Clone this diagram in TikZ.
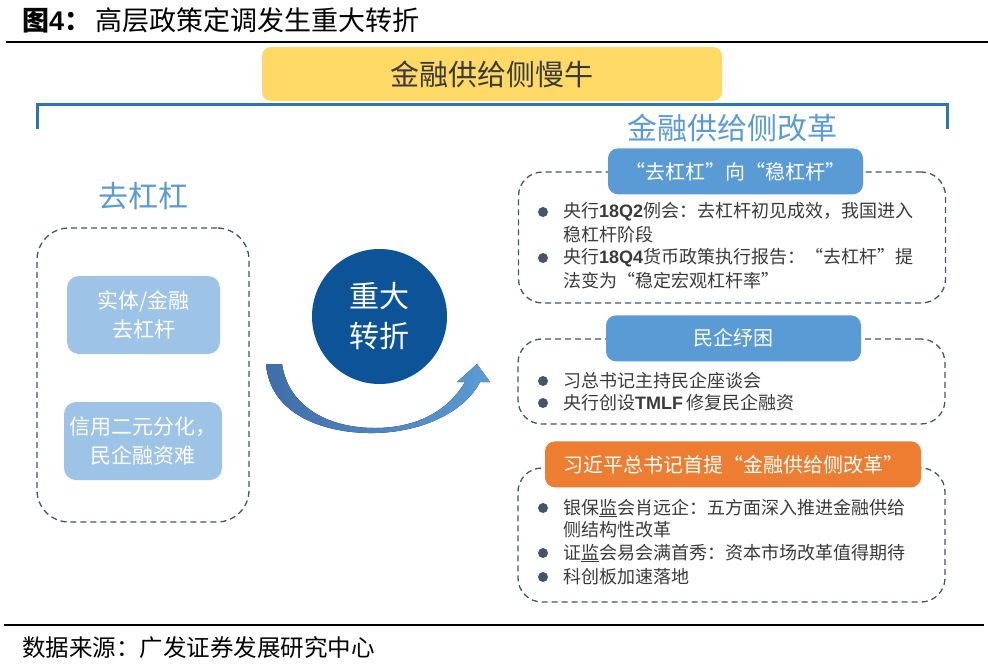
\documentclass[tikz,border=0pt]{standalone}
\usepackage{fontspec}
\setmainfont{Noto Sans CJK SC}
\newfontfamily\latinfont{Liberation Sans}
\usepackage{xcolor}
\usepackage{tikz}
\usetikzlibrary{positioning}
\definecolor{SkyBlue}{HTML}{5B9BD5}
\definecolor{PaleBlue}{HTML}{9DC3E6}
\definecolor{DeepBlue}{HTML}{0C5497}
\definecolor{RuleBlue}{HTML}{2E75B6}
\definecolor{ArcBlue}{HTML}{3F6EAA}
\definecolor{SlateLine}{HTML}{44546A}
\definecolor{ReformOrange}{HTML}{ED7D31}
\definecolor{SunYellow}{HTML}{FFD966}
\definecolor{InkGray}{HTML}{3A3A3A}
\tikzset{
  panel/.style={draw=SlateLine, line width=1.3pt, dash pattern=on 6pt off 4pt,
    rounded corners=24pt, minimum width=427pt, inner sep=0pt},
  headbox/.style={fill=SkyBlue, rounded corners=10pt, text=white, inner sep=0pt,
    font=\fontsize{20pt}{24pt}\selectfont, minimum width=255pt, minimum height=46pt},
  softbox/.style={fill=PaleBlue, rounded corners=12pt, text=white, align=center,
    font=\fontsize{21pt}{29pt}\selectfont, minimum height=78pt, inner sep=0pt},
  bigword/.style={text=SkyBlue, inner sep=0pt, font=\fontsize{30pt}{34pt}\selectfont},
  dot/.style={circle, fill=SlateLine, minimum size=10pt, inner sep=0pt},
  itemline/.style={anchor=west, inner sep=0pt, text=InkGray,
    font=\fontsize{18pt}{22pt}\selectfont},
  heavyrule/.style={line width=2.2pt, draw=black}
}
\newcommand{\engb}[1]{{\latinfont\bfseries #1}}

\begin{document}
\begin{tikzpicture}[x=1pt, y=-1pt]
  \useasboundingbox (0,0) rectangle (988,667);
  % title and rules
  \node[anchor=west, inner sep=0pt, font=\fontsize{27pt}{30pt}\selectfont] (title) at (22,20)
    {\textbf{图\engb{4}：}\hspace{4pt}高层政策定调发生重大转折};
  \draw[heavyrule] (6,42) -- (988,42);
  \draw[heavyrule] (4,625) -- (984,625);
  \node[anchor=west, inner sep=0pt, font=\fontsize{23.5pt}{26pt}\selectfont] (source) at (22,648)
    {数据来源：广发证券发展研究中心};

  % top banner and bracket
  \node[fill=SunYellow, rounded corners=9pt, minimum width=460pt, minimum height=54pt,
    text=InkGray, font=\fontsize{29pt}{32pt}\selectfont] (banner) at (492,74) {金融供给侧慢牛};
  \draw[draw=RuleBlue, line width=3pt] (37,129) |- (947,104) -- (947,129);

  % left side
  \node[bigword] (deleverage) at (143,196) {去杠杠};
  \node[panel, minimum width=212pt, minimum height=294pt, rounded corners=32pt] (panelL) at (143,375) {};
  \node[softbox, minimum width=153pt] (realfin) at (143.5,315) {实体/金融\\去杠杆};
  \node[softbox, minimum width=158pt] (credit) at (143,441) {信用二元分化，\\民企融资难};

  % turning point
  \node[circle, fill=DeepBlue, minimum size=135pt, inner sep=0pt, text=white, align=center,
    font=\fontsize{30pt}{40pt}\selectfont] (turn) at (379.5,316.5) {重大\\转折};
  \fill[left color=ArcBlue, right color=SkyBlue]
    (266,364) .. controls (270,415) and (325,434) .. (375,433)
    .. controls (425,432) and (466,410) .. (480,382) -- (490,382) -- (477,364) -- (457,382)
    -- (465,382) .. controls (450,408) and (420,428) .. (375,428)
    .. controls (326,428) and (288,405) .. (282,364) -- cycle;

  % right side
  \node[bigword] (reform) at (732,128) {金融供给侧改革};

  \node[panel, minimum height=131pt] (panelA) at (732,237.5) {};
  \node[headbox, xshift=3.5pt] (headA) at (panelA.north) {“去杠杠”向“稳杠杆”};
  \node[dot] (dotA1) at (543,212) {};
  \node[itemline] (lineA1) at (563,212) {央行\engb{18Q2}例会：去杠杆初见成效，我国进入};
  \node[itemline] (lineA2) at (563,235) {稳杠杆阶段};
  \node[dot] (dotA2) at (543,258) {};
  \node[itemline] (lineA3) at (563,258) {央行\engb{18Q4}货币政策执行报告：“去杠杆”提};
  \node[itemline] (lineA4) at (563,281) {法变为“稳定宏观杠杆率”};

  \node[panel, minimum height=85pt] (panelB) at (731.5,381.5) {};
  \node[headbox, xshift=2pt] (headB) at (panelB.north) {民企纾困};
  \node[dot] (dotB1) at (543,381) {};
  \node[itemline] (lineB1) at (563,381) {习总书记主持民企座谈会};
  \node[dot] (dotB2) at (543,403) {};
  \node[itemline] (lineB2) at (563,403) {央行创设\engb{TMLF}\,修复民企融资};

  \node[panel, minimum height=134pt] (panelC) at (731.5,535) {};
  \node[headbox, fill=ReformOrange, minimum width=376pt, xshift=1.5pt, yshift=3pt] (headC)
    at (panelC.north) {习近平总书记首提“金融供给侧改革”};
  \node[dot] (dotC1) at (543,508) {};
  \node[itemline] (lineC1) at (563,508) {银保\underline{监}会肖远企：五方面深入推进金融供给};
  \node[itemline] (lineC2) at (563,530) {侧结构性改革};
  \node[dot] (dotC2) at (543,553) {};
  \node[itemline] (lineC3) at (563,553) {证\underline{监}会易会满首秀：资本市场改革值得期待};
  \node[dot] (dotC3) at (543,577) {};
  \node[itemline] (lineC4) at (563,577) {科创板加速落地};
\end{tikzpicture}
\end{document}
